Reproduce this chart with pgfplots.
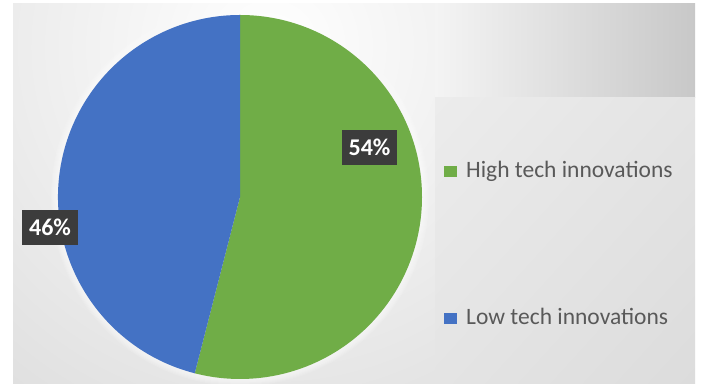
\documentclass[border=0pt]{standalone}
\usepackage{fontspec}
\setmainfont{Carlito}
\usepackage{pgfplots}
\pgfplotsset{compat=1.18}
\usepackage{pgfplotstable}
\usetikzlibrary{shadings}
\definecolor{hgreen}{HTML}{70AD47}
\definecolor{lblue}{HTML}{4472C4}
\definecolor{lblbg}{HTML}{3C3C3C}
\definecolor{legtext}{HTML}{595959}
\definecolor{bgA}{HTML}{D6D6D6}
\definecolor{rpUL}{HTML}{F4F4F4}
\definecolor{rpUR}{HTML}{C8C8C8}
\definecolor{rpLL}{HTML}{E4E4E4}
\definecolor{rpLR}{HTML}{DCDCDC}
\definecolor{rpTL}{HTML}{ECECEC}

\pgfplotstableread[col sep=comma,row sep=\\]{share,label\\54,High tech innovations\\46,Low tech innovations\\}\piedata

\begin{document}
\begin{tikzpicture}
\pgfplotstablegetelem{0}{share}\of\piedata \let\shareA\pgfplotsretval
\pgfplotstablegetelem{1}{share}\of\piedata \let\shareB\pgfplotsretval
\pgfplotstablegetelem{0}{label}\of\piedata \let\labelA\pgfplotsretval
\pgfplotstablegetelem{1}{label}\of\piedata \let\labelB\pgfplotsretval
\pgfmathsetmacro{\angA}{90-3.6*\shareA}
\begin{axis}[
  x=1pt, y=1pt, xmin=0, xmax=701, ymin=0, ymax=387,
  hide axis, clip=false,
  legend style={draw=none, fill=none, at={(axis cs:441,141)}, anchor=west,
    font=\fontsize{23.5}{27}\selectfont, text=legtext, row sep=123pt,
    nodes={inner sep=2pt, text height=15pt, text depth=5pt}},
  legend cell align=left,
  legend image code/.code={\fill[#1, draw=none] (0pt,-5pt) rectangle (13pt,6pt); \path[draw=none, fill=none] (0pt,0pt) -- (20pt,0pt);},
]
% background
\fill[white] (axis cs:0,0) rectangle (axis cs:701,387);
\begin{scope}
\clip (axis cs:13,3) rectangle (axis cs:435,383);
\fill[bgA] (axis cs:13,3) rectangle (axis cs:435,383);
\shade[inner color=white, outer color=bgA] (axis cs:270,340) circle[radius=560pt];
\end{scope}
\shade[left color=rpUL, right color=rpUR] (axis cs:435,289) rectangle (axis cs:695,383);
\shade[upper left=rpTL, upper right=rpLL, lower left=rpLL, lower right=rpLR] (axis cs:435,3) rectangle (axis cs:695,289);
% glow around pie
\pgfplotsinvokeforeach{1,...,7}{
  \fill[white, opacity=0.12] (axis cs:240,190) circle[radius=182pt+#1pt];
}
% slices
\fill[hgreen] (axis cs:240,190) -- (axis cs:240,372) arc[start angle=90, end angle=\angA, radius=182pt] -- cycle;
\fill[lblue] (axis cs:240,190) -- ++(\angA:182pt) arc[start angle=\angA, end angle=-270, radius=182pt] -- cycle;
% data labels
\node[fill=lblbg, text=white, font=\fontsize{24}{24}\selectfont\bfseries, minimum width=55pt, minimum height=35pt, inner sep=0pt] at (axis cs:369.5,239.5) {\shareA\%};
\node[fill=lblbg, text=white, font=\fontsize{24}{24}\selectfont\bfseries, minimum width=56pt, minimum height=35pt, inner sep=0pt] at (axis cs:50,159.5) {\shareB\%};
% legend
\addlegendimage{fill=hgreen}
\addlegendentry{\labelA}
\addlegendimage{fill=lblue}
\addlegendentry{\labelB}
\end{axis}
\end{tikzpicture}
\end{document}
